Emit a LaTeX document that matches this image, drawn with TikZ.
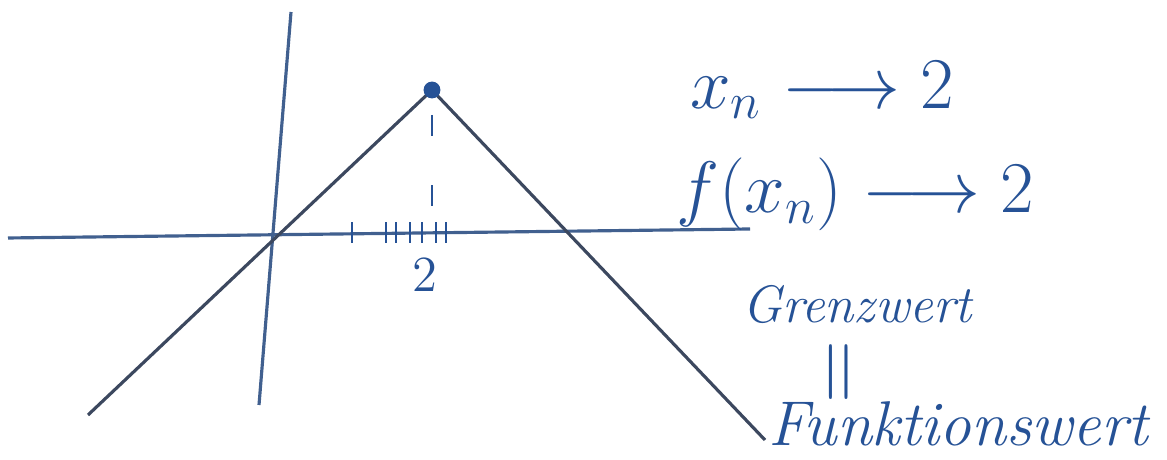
\documentclass[tikz,border=0pt]{standalone}
\usepackage{amsmath,amssymb}
\usetikzlibrary{positioning}

\definecolor{ink}{RGB}{38,82,150}
\definecolor{pencil}{RGB}{60,72,95}

\tikzset{
  axisline/.style={ink!70!gray, line width=0.9pt},
  graphline/.style={pencil, line width=0.9pt},
  handtext/.style={ink, inner sep=1pt},
  tickmark/.style={ink, line width=0.8pt}
}

\begin{document}
\begin{tikzpicture}[>=stealth]
  \useasboundingbox (0,0) rectangle (11.67,4.6);

  % Achsen
  \coordinate (xl) at (0.08,2.22);
  \coordinate (xr) at (7.50,2.31);
  \coordinate (yt) at (2.91,4.48);
  \coordinate (yb) at (2.59,0.55);
  \draw[axisline] (xl) -- (xr);
  \draw[axisline] (yt) -- (yb);

  % Graph (Zelt mit Spitze bei x = 2)
  \coordinate (links) at (0.88,0.45);
  \coordinate (spitze) at (4.32,3.70);
  \coordinate (rechts) at (7.65,0.20);
  \draw[graphline] (links) -- (spitze) -- (rechts);
  \fill[ink] (spitze) circle (2.4pt);

  % gestrichelte Linie zur Stelle 2
  \coordinate (fuss) at (4.32,2.30);
  \draw[ink, line width=0.8pt, dash pattern=on 6pt off 14pt] ([yshift=-0.25cm]spitze) -- (fuss);

  % Folgenglieder x_n auf der Achse
  \foreach \t in {3.52,3.86,3.96,4.10,4.22,4.36,4.46}
    \draw[tickmark] (\t,2.17) -- (\t,2.38);
  \node[handtext, font=\Large] (zwei) at (4.25,1.85) {$2$};

  % Beschriftung rechts
  \node[handtext, font=\fontsize{22}{26}\selectfont] (xn) at (8.22,3.70) {$x_n \longrightarrow 2$};
  \node[handtext, font=\fontsize{21}{25}\selectfont] (fxn) at (8.55,2.66) {$f(x_n) \longrightarrow 2$};
  \node[handtext, font=\fontsize{15}{18}\selectfont\itshape] (grenz) at (8.57,1.55) {Grenzwert};
  \node[handtext, font=\fontsize{26}{30}\selectfont, rotate=90] (gleich) at (8.45,0.88) {$=$};
  \node[handtext, font=\fontsize{18}{22}\selectfont\itshape] (funk) at (9.58,0.36) {Funktionswert};

\end{tikzpicture}
\end{document}
